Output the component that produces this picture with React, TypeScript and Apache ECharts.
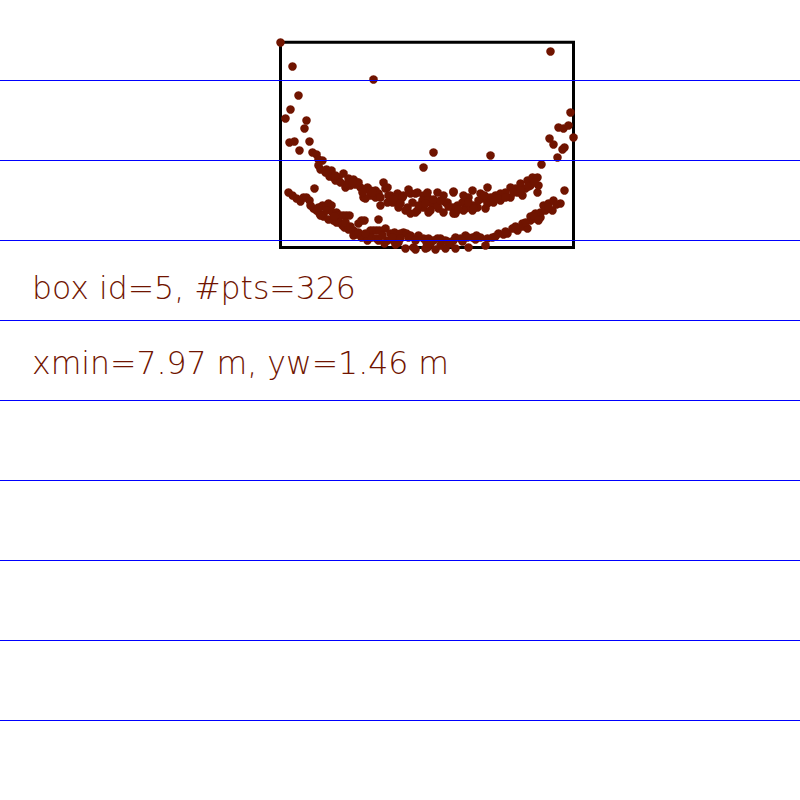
import { useEffect, useRef } from "react";
import * as echarts from "echarts";

// lateral position (m, from box edge) , depth x (m)
const strayPoints: [number, number][] = [
  [0.0, 8.995], [0.06, 8.875], [0.465, 8.81], [1.35, 8.95], [0.09, 8.73],
  [0.05, 8.66], [0.025, 8.615], [0.13, 8.605], [0.12, 8.565], [0.045, 8.495],
  [0.07, 8.5], [0.145, 8.5], [0.095, 8.455], [0.715, 8.37], [0.765, 8.445],
  [1.05, 8.43], [1.305, 8.385], [1.385, 8.42], [1.45, 8.645], [1.39, 8.57],
  [1.415, 8.565], [1.44, 8.58], [1.465, 8.52], [1.345, 8.515], [1.365, 8.485],
  [1.42, 8.47], [1.41, 8.46], [1.42, 8.255], [0.17, 8.265], [0.49, 8.11],
];

const upperArc: [number, number][] = [
  [0.16, 8.445], [0.18, 8.435], [0.19, 8.41], [0.21, 8.405], [0.19, 8.38],
  [0.2, 8.36], [0.23, 8.36], [0.255, 8.355], [0.245, 8.325], [0.265, 8.32],
  [0.29, 8.32], [0.315, 8.34], [0.34, 8.315], [0.365, 8.31], [0.39, 8.295],
  [0.325, 8.27], [0.35, 8.28], [0.375, 8.285], [0.4, 8.27], [0.425, 8.26],
  [0.45, 8.255], [0.475, 8.255], [0.415, 8.22], [0.45, 8.23], [0.475, 8.22],
  [0.335, 8.29], [0.385, 8.295], [0.435, 8.27], [0.515, 8.295], [0.525, 8.265],
  [0.485, 8.24], [0.55, 8.23], [0.585, 8.24], [0.615, 8.23], [0.65, 8.24],
  [0.685, 8.245], [0.715, 8.23], [0.735, 8.205], [0.535, 8.195], [0.585, 8.19],
  [0.635, 8.17], [0.685, 8.155], [0.715, 8.17], [0.425, 8.215], [0.535, 8.27],
  [0.64, 8.26], [0.675, 8.24], [0.785, 8.245], [0.865, 8.25], [0.96, 8.255],
  [0.49, 8.24], [0.54, 8.23], [0.575, 8.22], [0.61, 8.22], [0.56, 8.195],
  [0.59, 8.17], [0.625, 8.155], [0.675, 8.145], [0.71, 8.205], [0.74, 8.215],
  [0.76, 8.18], [0.74, 8.145], [0.79, 8.165], [0.825, 8.195], [0.86, 8.17],
  [0.875, 8.14], [0.91, 8.195], [0.925, 8.165], [0.94, 8.22], [0.965, 8.18],
  [0.96, 8.155], [0.735, 8.245], [0.815, 8.23], [0.865, 8.245], [0.915, 8.23],
  [1.0, 8.24], [1.035, 8.27], [1.05, 8.22], [1.1, 8.24], [1.15, 8.27],
  [1.185, 8.245], [1.2, 8.29], [1.235, 8.305], [1.26, 8.32], [1.285, 8.32],
  [1.29, 8.28], [1.285, 8.245], [1.21, 8.23], [1.15, 8.22], [1.1, 8.205],
  [1.035, 8.19], [0.985, 8.17], [0.935, 8.17], [0.885, 8.18], [0.835, 8.195],
  [0.785, 8.18], [0.75, 8.155], [0.815, 8.145], [0.865, 8.14], [0.915, 8.155],
  [0.965, 8.165], [1.025, 8.165], [1.25, 8.28], [1.225, 8.265], [1.175, 8.265],
  [1.125, 8.245], [1.075, 8.23], [1.015, 8.215], [0.275, 8.305], [0.3, 8.295],
  [0.225, 8.345], [0.275, 8.33], [0.36, 8.295], [0.41, 8.245], [0.46, 8.245],
  [0.5, 8.22], [0.565, 8.21], [0.6, 8.19], [0.66, 8.195], [0.69, 8.18],
  [0.725, 8.19], [0.765, 8.21], [0.8, 8.205], [0.84, 8.175], [0.89, 8.16],
  [0.94, 8.195], [0.99, 8.205], [1.02, 8.23], [1.065, 8.195], [1.085, 8.215],
  [1.125, 8.22], [1.165, 8.245], [1.2, 8.255], [1.24, 8.275], [1.27, 8.295],
  [0.5, 8.18], [0.65, 8.14],
];

const lowerArc: [number, number][] = [
  [0.04, 8.245], [0.06, 8.23], [0.08, 8.215], [0.1, 8.2], [0.115, 8.22],
  [0.13, 8.22], [0.145, 8.205], [0.165, 8.165], [0.18, 8.155], [0.195, 8.14],
  [0.215, 8.125], [0.21, 8.18], [0.225, 8.17], [0.24, 8.19], [0.255, 8.18],
  [0.23, 8.155], [0.26, 8.145], [0.28, 8.145], [0.285, 8.13], [0.3, 8.13],
  [0.315, 8.13], [0.33, 8.13], [0.345, 8.13], [0.2, 8.13], [0.24, 8.11],
  [0.265, 8.105], [0.28, 8.095], [0.295, 8.095], [0.31, 8.08], [0.32, 8.07],
  [0.34, 8.06], [0.365, 8.055], [0.365, 8.03], [0.38, 8.035], [0.39, 8.09],
  [0.405, 8.105], [0.42, 8.105], [0.405, 8.02], [0.43, 8.02], [0.435, 8.005],
  [0.45, 8.055], [0.465, 8.055], [0.48, 8.055], [0.495, 8.055], [0.455, 8.02],
  [0.48, 8.015], [0.49, 8.005], [0.525, 8.065], [0.535, 8.005], [0.55, 8.04],
  [0.585, 8.03], [0.615, 8.045], [0.65, 8.03], [0.685, 8.02], [0.715, 8.015],
  [0.52, 7.99], [0.59, 7.995], [0.665, 7.97], [0.735, 7.97], [0.565, 8.005],
  [0.57, 8.045], [0.6, 8.04], [0.63, 8.04], [0.64, 8.02], [0.69, 8.03],
  [0.74, 8.015], [0.785, 8.015], [0.825, 8.005], [0.875, 8.02], [0.925, 8.03],
  [0.96, 8.02], [0.725, 7.965], [0.825, 7.965], [0.94, 7.97], [0.73, 7.995],
  [0.765, 8.005], [0.8, 8.015], [0.835, 8.0], [0.865, 8.005], [0.9, 8.015],
  [0.935, 8.02], [0.98, 8.03], [1.0, 8.02], [1.035, 8.015], [1.06, 8.02],
  [1.09, 8.04], [1.115, 8.035], [1.135, 8.04], [1.16, 8.065], [1.185, 8.055],
  [1.21, 8.075], [1.235, 8.065], [1.21, 8.09], [1.25, 8.105], [1.275, 8.115],
  [1.3, 8.12], [1.3, 8.145], [1.325, 8.155], [1.36, 8.155], [1.315, 8.18],
  [1.34, 8.19], [1.365, 8.205], [1.4, 8.19], [1.025, 7.98], [0.625, 7.965],
  [0.675, 7.96], [0.775, 7.96], [0.875, 7.965], [1.275, 8.14], [1.25, 8.125],
  [0.15, 8.18], [0.19, 8.17], [0.27, 8.125], [0.325, 8.095], [0.35, 8.075],
  [0.39, 8.045], [0.425, 8.04], [0.51, 8.03], [0.56, 8.02], [0.6, 8.015],
  [0.675, 8.005], [0.75, 7.99], [0.85, 7.99], [0.91, 8.0], [0.975, 8.01],
  [1.075, 8.025], [1.125, 8.05], [1.175, 8.075], [1.225, 8.095], [1.265, 8.13],
  [1.29, 8.105], [1.34, 8.17], [1.38, 8.185], [0.575, 7.985], [0.8, 7.98],
];

const captionLines = ["box id=5, #pts=326", "xmin=7.97 m, yw=1.46 m"];
const ruleRows = [80, 160, 240, 320, 400, 480, 560, 640, 720];

const boxWidth = 1.465;
const xMin = 7.97;

export default function App() {
  const chartRef = useRef<HTMLDivElement>(null);

  useEffect(() => {
    const chart = echarts.init(chartRef.current, null, { renderer: "svg" });

    const rules = ruleRows.map((y) => ({
      type: "line",
      z: 10,
      shape: { x1: 0, y1: y + 0.5, x2: 800, y2: y + 0.5 },
      style: { stroke: "#0000ff", lineWidth: 1 },
      silent: true,
    }));

    const captions = captionLines.map((t, i) => ({
      type: "text",
      z: 10,
      left: 32,
      top: 272 + i * 75,
      style: {
        text: t,
        fill: "#701400",
        font: "200 31.5px 'DejaVu Sans'",
      },
    }));

    chart.setOption({
      animation: false,
      backgroundColor: "#ffffff",
      grid: {
        left: 280.5,
        top: 42.3,
        width: 293,
        height: 205.2,
        show: true,
        borderColor: "#000000",
        borderWidth: 3,
        backgroundColor: "transparent",
      },
      xAxis: {
        type: "value",
        min: 0,
        max: boxWidth,
        show: false,
      },
      yAxis: {
        type: "value",
        min: xMin,
        max: xMin + 1.026,
        show: false,
      },
      series: [
        {
          type: "scatter",
          symbol: "circle",
          symbolSize: 8.5,
          clip: false,
          itemStyle: { color: "#701400", opacity: 1 },
          data: [...strayPoints, ...upperArc, ...lowerArc],
        },
      ],
      graphic: [...rules, ...captions],
    });

    return () => {
      chart.dispose();
    };
  }, []);

  return (
    <div
      ref={chartRef}
      style={{ position: "absolute", left: 0, top: 0, width: "800px", height: "800px" }}
    />
  );
}
